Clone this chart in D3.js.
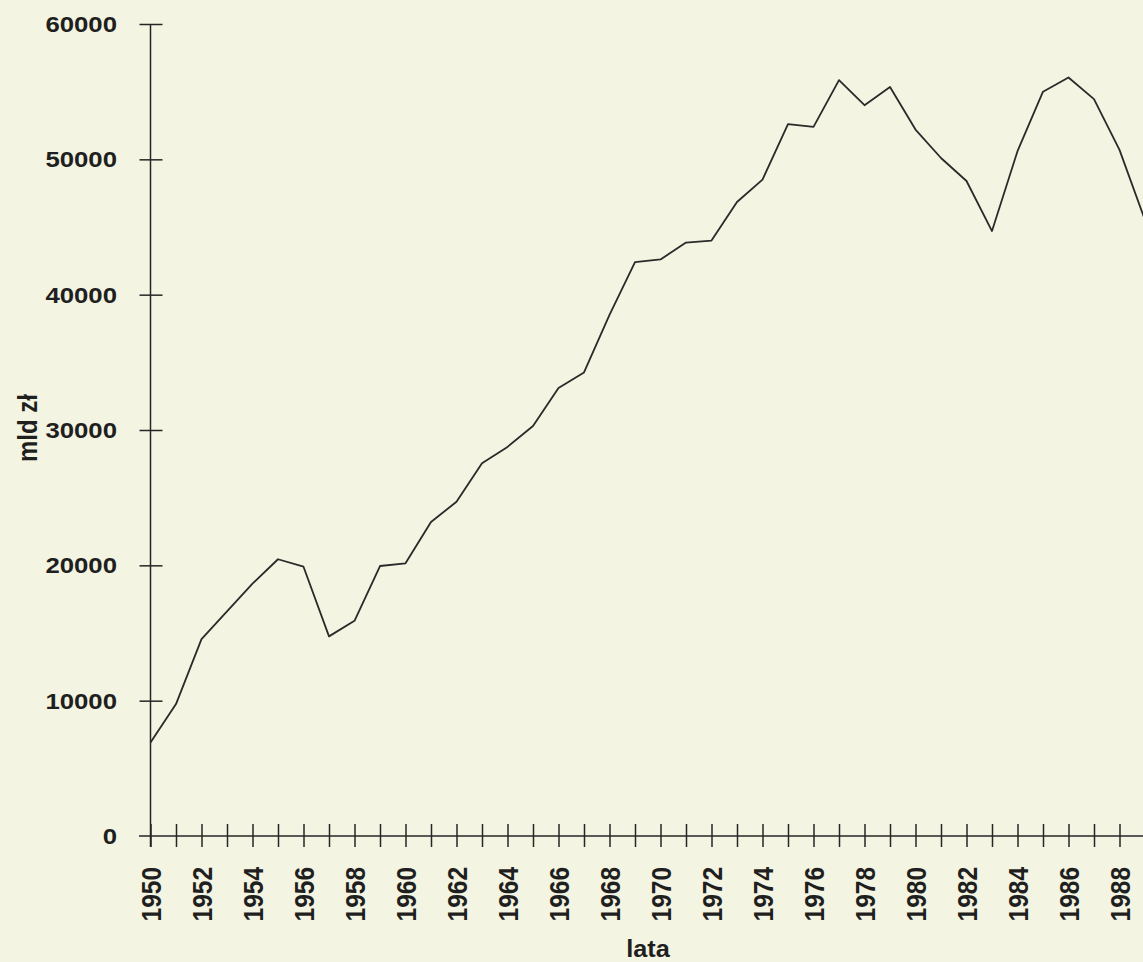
<!DOCTYPE html>
<html>
<head>
<meta charset="utf-8">
<script src="https://cdn.jsdelivr.net/npm/d3@7"></script>
<style>
  html, body { margin: 0; padding: 0; background: #f3f4e1; }
  svg { display: block; }
  .lbl { font-family: Arial, "Liberation Sans", sans-serif; font-weight: bold; fill: #1f1f1f; }
</style>
</head>
<body>
<div id="chart"></div>
<script>
// years and values (mld zl)
var years = [1950,1951,1952,1953,1954,1955,1956,1957,1958,1959,
             1960,1961,1962,1963,1964,1965,1966,1967,1968,1969,
             1970,1971,1972,1973,1974,1975,1976,1977,1978,1979,
             1980,1981,1982,1983,1984,1985,1986,1987,1988,1989];
var values = [6900,9750,14550,16600,18650,20450,19900,14750,15900,19950,
              20150,23200,24700,27550,28750,30300,33100,34250,38500,42400,
              42600,43850,44000,46850,48500,52600,52400,55850,54000,55350,
              52200,50100,48400,44700,50600,55000,56050,54450,50700,45500];
var yTicks = [0,10000,20000,30000,40000,50000,60000];

var W = 1143, H = 962;
var x0 = 150.5, step = 25.5;

var svg = d3.select('#chart').append('svg')
  .attr('width', W).attr('height', H);

var x = d3.scaleLinear()
  .domain([1950, 1989])
  .range([x0, x0 + 39 * step]);

var y = d3.scaleLinear()
  .domain([0, 60000])
  .range([836, 24]);

// x axis, ticks crossing the line
var xAxis = svg.append('g')
  .attr('transform', 'translate(0,' + y(0) + ')')
  .call(d3.axisBottom(x).tickValues(years).tickSize(11).tickFormat(''));
xAxis.select('.domain').remove();
xAxis.selectAll('.tick line').attr('y1', -12).attr('stroke', '#262626').attr('stroke-width', 1.5);
xAxis.append('line')
  .attr('x1', 139).attr('x2', W).attr('y1', 0).attr('y2', 0)
  .attr('stroke', '#262626').attr('stroke-width', 1.5);

// y axis
var yAxis = svg.append('g')
  .attr('transform', 'translate(' + x0 + ',0)')
  .call(d3.axisLeft(y).tickValues(yTicks).tickSize(11).tickFormat(''));
yAxis.select('.domain').remove();
yAxis.selectAll('.tick line').attr('x2', function(d) { return d === 0 ? 0 : -11; })
  .attr('x1', function(d) { return d === 0 ? 0 : 12; })
  .attr('stroke', '#262626').attr('stroke-width', 1.5);
yAxis.append('line')
  .attr('x1', 0).attr('x2', 0).attr('y1', y(60000)).attr('y2', y(0) + 11)
  .attr('stroke', '#262626').attr('stroke-width', 1.5);

// tick labels
svg.selectAll('.ylab')
  .data(yTicks)
  .enter()
  .append('text')
  .attr('class', 'lbl')
  .attr('text-anchor', 'end')
  .attr('font-size', 23)
  .attr('transform', function(d) { return 'translate(117,' + (y(d) + 8) + ') scale(1.12,1)'; })
  .text(function(d) { return d; });

svg.selectAll('.xlab')
  .data(years.filter(function(d) { return d % 2 === 0; }))
  .enter()
  .append('text')
  .attr('class', 'lbl')
  .attr('text-anchor', 'end')
  .attr('font-size', 24.5)
  .attr('transform', function(d) { return 'translate(' + (x(d) + 10) + ',867) scale(1.13,1) rotate(-90)'; })
  .text(function(d) { return d; });

// axis titles
svg.append('text')
  .attr('class', 'lbl')
  .attr('text-anchor', 'middle')
  .attr('font-size', 23)
  .attr('transform', 'translate(648,957) scale(1.1,1)')
  .text('lata');

svg.append('text')
  .attr('class', 'lbl')
  .attr('text-anchor', 'middle')
  .attr('font-size', 24)
  .attr('transform', 'translate(37,428) scale(1.13,1) rotate(-90)')
  .text('mld zł');

// the series
var line = d3.line()
  .x(function(d, i) { return x(years[i]); })
  .y(function(d) { return y(d); });

svg.append('path')
  .datum(values)
  .attr('d', line)
  .attr('fill', 'none')
  .attr('stroke', '#2a2a2a')
  .attr('stroke-width', 1.8)
  .attr('stroke-linejoin', 'round');
</script>
</body>
</html>
